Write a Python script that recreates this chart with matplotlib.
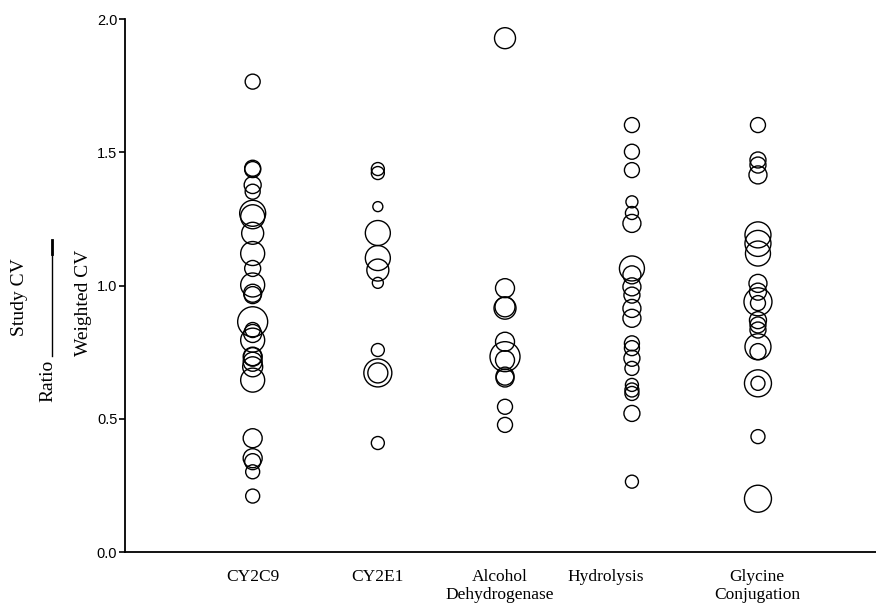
import numpy as np
import matplotlib.pyplot as plt

# ratio of study CV to weighted CV, with study weights (bubble radius)
categories = ["CY2C9", "CY2E1", "Alcohol\nDehydrogenase", "Hydrolysis", "Glycine\nConjugation"]

cy2c9 = [1.765, 1.44, 1.435, 1.377, 1.352, 1.271, 1.258, 1.196, 1.12, 1.064, 1.002,
         0.971, 0.964, 0.864, 0.833, 0.82, 0.795, 0.733, 0.733, 0.714, 0.695, 0.645,
         0.427, 0.352, 0.339, 0.301, 0.21]
cy2c9_w = [7.5, 8, 8, 8.5, 7.5, 13, 12, 11, 12, 8, 12,
           9, 8.5, 15, 7.5, 9, 12, 9, 9.5, 9.5, 10, 12,
           9.5, 9.5, 8, 7, 7]

cy2e1 = [1.437, 1.422, 1.296, 1.197, 1.103, 1.058, 1.01, 0.758, 0.672, 0.672, 0.409]
cy2e1_w = [6.5, 6.5, 5, 12.5, 12.5, 11, 5.5, 6.5, 14, 10, 6.5]

adh = [1.928, 0.99, 0.92, 0.915, 0.789, 0.733, 0.72, 0.653, 0.66, 0.545, 0.477]
adh_w = [10.5, 9.5, 10, 11, 9.5, 15, 9.5, 9, 9, 7.5, 7.5]

hydro = [1.602, 1.502, 1.433, 1.314, 1.272, 1.233, 1.064, 1.04, 0.995, 0.964, 0.914,
         0.877, 0.783, 0.765, 0.727, 0.689, 0.627, 0.608, 0.595, 0.52, 0.264]
hydro_w = [7.5, 7.5, 7.5, 6, 6.5, 9, 12.5, 9, 9, 8, 9,
           9, 7.5, 7.5, 8, 7, 6.5, 7, 7, 8, 6.5]

glycine = [1.602, 1.471, 1.452, 1.415, 1.19, 1.158, 1.12, 1.008, 0.977, 0.939, 0.934,
           0.87, 0.852, 0.833, 0.77, 0.752, 0.633, 0.633, 0.433, 0.2]
glycine_w = [7.5, 8, 8, 9, 13, 13, 12.5, 9, 8.5, 14, 7.5,
             8.5, 8, 8, 13, 8, 13.5, 7, 7, 13.5]

groups = [(cy2c9, cy2c9_w), (cy2e1, cy2e1_w), (adh, adh_w), (hydro, hydro_w), (glycine, glycine_w)]
xpos = [1.02, 2.02, 3.036, 4.05, 5.057]
label_pos = [1.023, 2.02, 2.996, 3.84, 5.05]

fig = plt.figure(figsize=(8.76, 6.15), dpi=100)
ax = fig.add_axes([0.1427, 0.1024, 0.8573, 0.8667])

for x, (vals, w) in zip(xpos, groups):
    w = np.array(w)
    ax.scatter(np.full(len(vals), x), vals, s=(1.44 * w) ** 2,
               facecolors="none", edgecolors="black", linewidths=1.0)

ax.set_xlim(0, 6)
ax.set_ylim(0, 2.0)
ax.set_yticks([0.0, 0.5, 1.0, 1.5, 2.0])
ax.set_yticklabels(["0.0", "0.5", "1.0", "1.5", "2.0"], family="Liberation Sans", fontsize=10.5)
ax.tick_params(axis="y", direction="out", length=4, width=1.2, pad=1.5)
ax.set_xticks(label_pos)
ax.set_xticklabels(categories, family="Liberation Serif", fontsize=12.5)
ax.tick_params(axis="x", length=0, pad=12)
for side in ["top", "right"]:
    ax.spines[side].set_visible(False)
for side in ["left", "bottom"]:
    ax.spines[side].set_linewidth(1.3)

# stacked y label: Ratio  Study CV / Weighted CV
serif = "Liberation Serif"
fig.text(19 / 876, 1 - 297 / 615, "Study CV", rotation=90, ha="center", va="center",
         family=serif, fontsize=14)
fig.text(83 / 876, 1 - 303 / 615, "Weighted CV", rotation=90, ha="center", va="center",
         family=serif, fontsize=14)
fig.text(48 / 876, 1 - 381 / 615, "Ratio", rotation=90, ha="center", va="center",
         family=serif, fontsize=14)
fig.add_artist(plt.Line2D([52 / 876, 52 / 876], [1 - 240 / 615, 1 - 356 / 615],
                          transform=fig.transFigure, color="black", lw=1.0))
fig.add_artist(plt.Line2D([52 / 876, 52 / 876], [1 - 240 / 615, 1 - 254 / 615],
                          transform=fig.transFigure, color="black", lw=2.0))

fig.savefig("out.png", dpi=100)
